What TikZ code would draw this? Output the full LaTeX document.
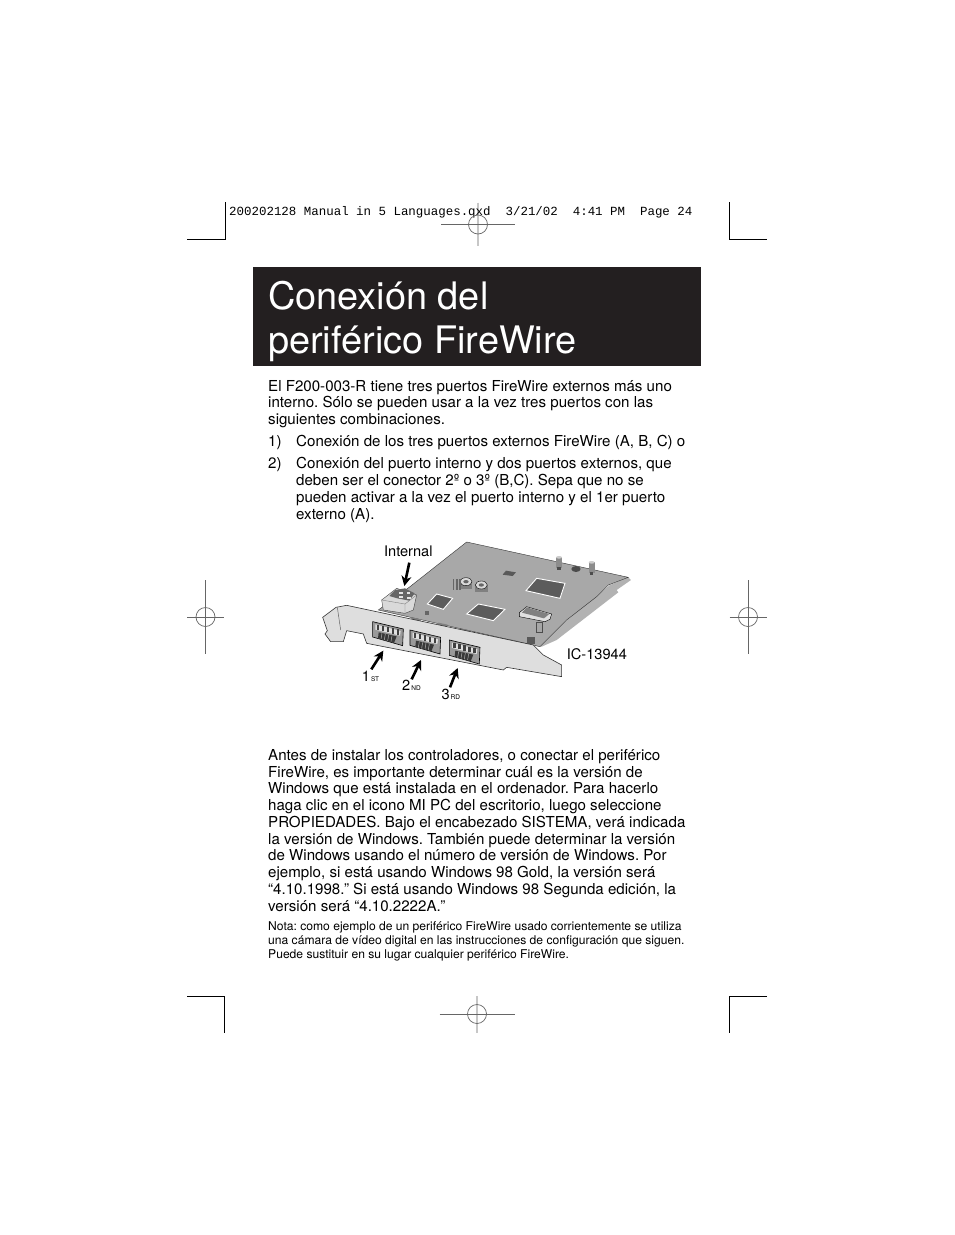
\documentclass[tikz,border=0pt]{standalone}
\usepackage{fontspec}
\setmainfont{TeX Gyre Heros}
\setmonofont{Liberation Mono}
\usetikzlibrary{arrows.meta}
\definecolor{titlebg}{HTML}{231F20}
\definecolor{boardgray}{gray}{0.66}
\definecolor{bracketgray}{gray}{0.87}
\definecolor{chipgray}{gray}{0.36}
\tikzset{
  crop/.style={line width=0.8pt,black},
  regmark/.style={line width=0.7pt,black!60},
  regpale/.style={line width=2pt,black!22},
  bodytext/.style={anchor=north west,inner sep=0pt,align=left,font=\fontsize{15.1}{16.75}\selectfont\frenchspacing},
  notetext/.style={anchor=north west,inner sep=0pt,align=left,font=\fontsize{12.1}{14}\selectfont\frenchspacing},
  chip/.style={fill=chipgray,draw=white,line width=0.9pt},
  callout/.style={line width=2.6pt,-{Stealth[length=10pt,width=10pt]}},
  cardlabel/.style={inner sep=0pt,font=\fontsize{14.6}{15}\selectfont}
}
\begin{document}
\begin{tikzpicture}[x=1pt,y=-1pt]
\useasboundingbox[fill=white] (0,0) rectangle (954,1235);
% crop marks
\draw[crop] (225,202) -- (225,239) -- (187,239);
\draw[crop] (729,202) -- (729,239) -- (767,239);
\draw[crop] (187,996) -- (224,996) -- (224,1033);
\draw[crop] (767,996) -- (729,996) -- (729,1033);
% registration marks
\path (205.5,617) coordinate (regleft) (748,617) coordinate (regright);
\foreach \regname in {regleft,regright} {
  \draw[regmark] (\regname) circle (9.5);
  \draw[regmark] (\regname) ++(-18.5,0) -- ++(37,0);
  \draw[regmark] (\regname) ++(0,-37) -- ++(0,74);
}
\path (477,1014) coordinate (regbottom) (478,224.5) coordinate (regtop);
\draw[regpale] (regbottom) ++(0,-18) -- ++(0,37);
\draw[regmark] (regbottom) circle (9.5);
\draw[regmark] (regbottom) ++(-37.5,0) -- ++(75,0);
\draw[regpale] (regtop) ++(0,-22) -- ++(0,43);
\node[anchor=base west,inner sep=0pt,font=\ttfamily\fontsize{12.45}{13}\selectfont] (slug) at (229,215)
  {200202128 Manual in 5 Languages.qxd\ \ 3/21/02\ \ 4:41 PM\ \ Page 24};
\draw[regmark] (regtop) circle (9.5);
\draw[regmark] (regtop) ++(-37,0) -- ++(74,0);
% title bar
\fill[titlebg] (253,267) rectangle (701,366);
\node[anchor=base west,inner sep=0pt,text=white,font=\fontsize{37.9}{38}\selectfont] (titleone) at (268,309) {Conexión del};
\node[anchor=base west,inner sep=0pt,text=white,font=\fontsize{37.9}{38}\selectfont] (titletwo) at (268,353) {periférico FireWire};
% upper text
\node[bodytext] (intro) at (268,380) {El F200-003-R tiene tres puertos FireWire externos más uno\\
  interno. Sólo se pueden usar a la vez tres puertos con las\\
  siguientes combinaciones.};
\node[bodytext] (numone) at (268,435.5) {1)};
\node[bodytext] (itemone) at (296,435.5) {Conexión de los tres puertos externos FireWire (A, B, C) o};
\node[bodytext] (numtwo) at (268,457.5) {2)};
\node[bodytext] (itemtwo) at (296,457.5) {Conexión del puerto interno y dos puertos externos, que\\
  deben ser el conector 2º o 3º (B,C). Sepa que no se\\
  pueden activar a la vez el puerto interno y el 1er puerto\\
  externo (A).};
% card
\begin{scope}[shift={(310,530)},x=0.3333pt,y=-0.3333pt]
  \fill[black!30] (955,142) -- (963,150) -- (920,180) -- (925,187) -- (740,330) -- (695,350) -- (680,345) -- (900,165) -- cycle;
  \fill[boardgray,draw=black!80,line width=0.4pt] (470,36) -- (900,130) -- (955,142) -- (895,165) -- (860,200)
    -- (770,270) -- (690,350) -- (205,240) -- (300,170) -- cycle;
  % chips
  \draw[chip] (680,145) -- (765,160) -- (750,205) -- (648,182) -- cycle;
  \draw[chip] (505,222) -- (585,238) -- (550,272) -- (470,252) -- cycle;
  \draw[chip] (380,192) -- (428,205) -- (400,238) -- (352,222) -- cycle;
  \fill[black!65] (588,122) -- (618,127) -- (608,138) -- (578,134) -- cycle;
  \fill[black!12,draw=black,line width=0.4pt] (650,230) -- (725,252) -- (720,268) -- (705,275) -- (628,260) -- (628,248) -- cycle;
  \fill[black!50] (650,232) -- (718,252) -- (702,265) -- (636,248) -- cycle;
  % capacitors
  \foreach \capx/\capy in {468/155,514/165} {
    \fill[black!50] (\capx-19,\capy) rectangle (\capx+19,\capy+22);
    \fill[black!15,draw=black,line width=0.4pt] (\capx,\capy) ellipse (18 and 12);
    \fill[black!60] (\capx,\capy) ellipse (8 and 5);
  }
  \foreach \pinx in {428,438,448} {
    \fill[black!60] (\pinx,148) rectangle (\pinx+5,180);
  }
  \fill[black!60] (346,244) rectangle (356,254);
  % posts
  \foreach \postx/\posty in {747/100,845/115} {
    \fill[black!45] (\postx-9,\posty-18) rectangle (\postx+9,\posty+14);
    \fill[black!70] (\postx-5,\posty+10) rectangle (\postx+5,\posty+20);
    \fill[black!20] (\postx,\posty-18) ellipse (9 and 4);
  }
  \fill[black!70] (798,117) ellipse (14 and 9);
  \fill[black!35,draw=black!70,line width=0.3pt] (680,275) rectangle (698,305);
  \fill[black!65] (650,322) rectangle (675,342);
  % slots behind the bracket
  \foreach \slotx/\sloty in {305/262,385/278,455/296,505/312,555/322,600/328} {
    \fill[black!50] (\slotx,\sloty) -- ++(28,6) -- ++(-6,18) -- ++(-28,-6) -- cycle;
  }
  % internal connector
  \fill[black!15,draw=black!75,line width=0.4pt] (215,210) -- (260,175) -- (320,195) -- (310,240) -- (285,250) -- (220,240) -- cycle;
  \fill[black!60] (255,180) -- (285,175) -- (314,190) -- (298,212) -- (262,205) -- (238,198) -- cycle;
  \foreach \holex/\holey in {268/185,290/187,268/198,292/200} {
    \fill[black!10] (\holex,\holey) rectangle (\holex+10,\holey+6);
  }
  \draw[black!50,line width=0.4pt] (215,210) -- (285,222) -- (285,250);
  \draw[black!50,line width=0.4pt] (285,222) -- (320,195);
  % bracket
  \fill[bracketgray,draw=black!80,line width=0.6pt] (38,262) -- (78,232) -- (110,226) -- (670,345)
    -- (700,375) -- (755,405) -- (755,440) -- (590,412) -- (580,420) -- (170,340) -- (160,312)
    -- (110,302) -- (100,335) -- (62,335) -- (45,312) -- (52,302) -- cycle;
  \draw[black!60,line width=0.5pt] (82,232) -- (92,300);
  \foreach \portx/\porty in {188/275,300/300,418/330} {
    \begin{scope}[shift={(\portx,\porty)}]
      \fill[black!40,draw=black,line width=0.6pt] (0,0) -- (92,22) -- (90,72) -- (0,46) -- cycle;
      \fill[black!12] (8,8) -- (84,28) -- (82,42) -- (8,24) -- cycle;
      \foreach \toothx in {12,27,42,57,72} {
        \fill[black!75] (\toothx,{6+\toothx*0.24}) rectangle (\toothx+7,{22+\toothx*0.24});
      }
      \fill[black!78] (18,32) -- (72,44) -- (64,64) -- (16,50) -- cycle;
      \foreach \stripex in {28,38,48,58} {
        \draw[black!30,line width=0.5pt] (\stripex,{28+\stripex*0.24}) -- (\stripex-3,{46+\stripex*0.24});
      }
    \end{scope}
  }
  % callouts
  \node[cardlabel,anchor=base] (internal) at (295,80) {Internal};
  \node[cardlabel,anchor=base west] (iclabel) at (770,388) {IC-13944};
  \node[cardlabel,anchor=base west] (first) at (155,455) {1{\fontsize{6.5}{7}\selectfont\,ST}};
  \node[cardlabel,anchor=base west] (second) at (276,483) {2{\fontsize{6.5}{7}\selectfont\,ND}};
  \node[cardlabel,anchor=base west] (third) at (394,510) {3{\fontsize{6.5}{7}\selectfont\,RD}};
  \path (298,98) coordinate (internaltail) (283,168) coordinate (internaltip);
  \path (184,418) coordinate (firsttail) (220,362) coordinate (firsttip);
  \path (305,448) coordinate (secondtail) (333,390) coordinate (secondtip);
  \path (420,472) coordinate (thirdtail) (443,414) coordinate (thirdtip);
  \draw[callout] (internaltail) -- (internaltip);
  \draw[callout] (firsttail) -- (firsttip);
  \draw[callout] (secondtail) -- (secondtip);
  \draw[callout] (thirdtail) -- (thirdtip);
\end{scope}
% lower text
\node[bodytext] (install) at (268,749) {Antes de instalar los controladores, o conectar el periférico\\
  FireWire, es importante determinar cuál es la versión de\\
  Windows que está instalada en el ordenador. Para hacerlo\\
  haga clic en el icono MI PC del escritorio, luego seleccione\\
  PROPIEDADES. Bajo el encabezado SISTEMA, verá indicada\\
  la versión de Windows. También puede determinar la versión\\
  de Windows usando el número de versión de Windows. Por\\
  ejemplo, si está usando Windows 98 Gold, la versión será\\
  “4.10.1998.” Si está usando Windows 98 Segunda edición, la\\
  versión será “4.10.2222A.”};
\node[notetext] (note) at (268,921.5) {Nota: como ejemplo de un periférico FireWire usado corrientemente se utiliza\\
  una cámara de vídeo digital en las instrucciones de configuración que siguen.\\
  Puede sustituir en su lugar cualquier periférico FireWire.};
\end{tikzpicture}
\end{document}
